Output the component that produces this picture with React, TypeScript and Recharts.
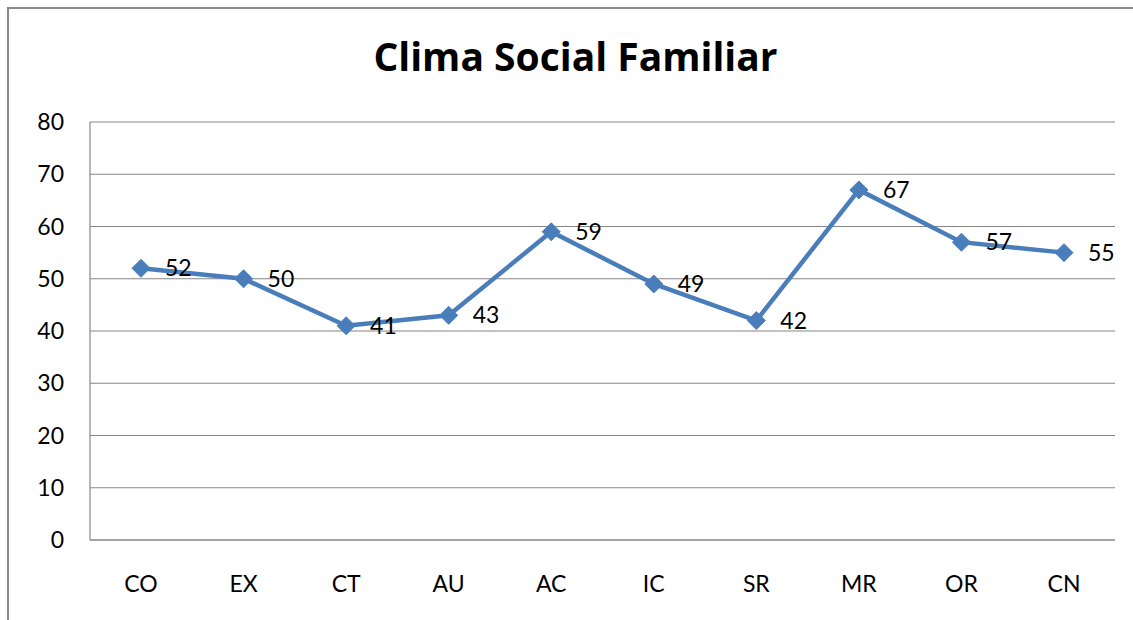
import { LineChart, Line, XAxis, YAxis, CartesianGrid, LabelList } from "recharts";

const categories = ["CO", "EX", "CT", "AU", "AC", "IC", "SR", "MR", "OR", "CN"];
const values = [52, 50, 41, 43, 59, 49, 42, 67, 57, 55];
const yTicks = [0, 10, 20, 30, 40, 50, 60, 70, 80];

const data = categories.map((c, i) => ({ name: c, value: values[i] }));

const FONT = "Lato, 'Open Sans', sans-serif";
const LINE = "#4A7EBB";

const Diamond = (props: any) => {
  const { cx, cy } = props;
  if (cx == null || cy == null) return null;
  const r = 9;
  return (
    <polygon
      points={`${cx},${cy - r} ${cx + r},${cy} ${cx},${cy + r} ${cx - r},${cy}`}
      fill={LINE}
      stroke={LINE}
    />
  );
};

export default function App() {
  return (
    <div style={{ position: "absolute", left: 0, top: 0, width: 1133, height: 620, overflow: "hidden", background: "#fff" }}>
      <div
        style={{
          position: "absolute",
          left: 7,
          top: 7,
          width: 1300,
          height: 800,
          border: "2px solid #8a8a8a",
          boxSizing: "border-box",
        }}
      />
      <div
        style={{
          position: "absolute",
          left: 0,
          top: 30,
          width: 1151,
          textAlign: "center",
          fontFamily: "'Open Sans', sans-serif",
          fontWeight: 700,
          fontSize: 39,
          lineHeight: "52px",
          color: "#000",
        }}
      >
        Clima Social Familiar
      </div>
      <div style={{ position: "absolute", left: 0, top: 0 }}>
        <LineChart
          width={1133}
          height={620}
          data={data}
          margin={{ top: 122, right: 18, bottom: 40, left: 40 }}
        >
          <CartesianGrid vertical={false} stroke="#868686" strokeWidth={1.2} />
          <XAxis
            dataKey="name"
            padding={{ left: 51, right: 51 }}
            axisLine={{ stroke: "#868686", strokeWidth: 1.2 }}
            tickLine={false}
            tickMargin={30}
            height={40}
            tick={{ fill: "#000", fontSize: 23, fontFamily: FONT }}
          />
          <YAxis
            domain={[0, 80]}
            ticks={yTicks}
            width={50}
            axisLine={{ stroke: "#868686", strokeWidth: 1.2 }}
            tickLine={false}
            tickMargin={20}
            tick={{ fill: "#000", fontSize: 23, fontFamily: FONT }}
          />
          <Line
            dataKey="value"
            stroke={LINE}
            strokeWidth={4.5}
            dot={<Diamond />}
            isAnimationActive={false}
          >
            <LabelList
              dataKey="value"
              position="right"
              offset={24}
              fill="#000"
              fontSize={23}
              fontFamily={FONT}
            />
          </Line>
        </LineChart>
      </div>
    </div>
  );
}
